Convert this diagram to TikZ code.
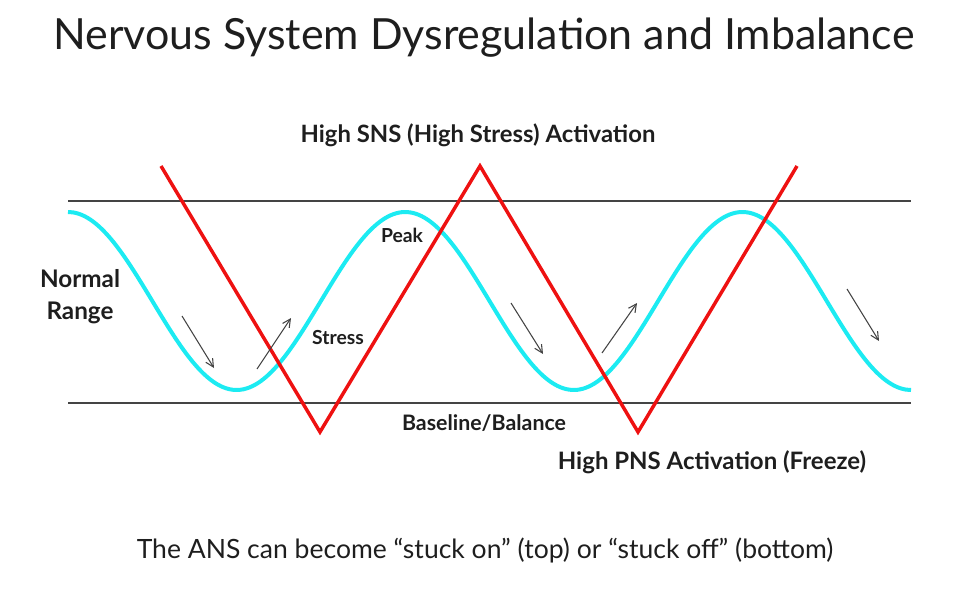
\documentclass[tikz,border=0pt]{standalone}
\usepackage{fontspec}
\setmainfont{Lato}
\usepackage{tikz}
\usetikzlibrary{arrows.meta}

\definecolor{wavecyan}{HTML}{1CEBF2}
\definecolor{zigred}{HTML}{EE1111}
\definecolor{txtdark}{HTML}{1E1E1E}
\definecolor{rulegray}{HTML}{444444}

\begin{document}
\begin{tikzpicture}[x=0.75pt, y=-0.75pt,
    lbl/.style={text=txtdark, font=\bfseries, inner sep=0pt},
    band/.style={rulegray, line width=1.1pt},
    flow/.style={-{Straight Barb[length=6pt,width=6pt]}, rulegray, line width=0.8pt}]
        \useasboundingbox (0,0) rectangle (962,595);

        \node[text=txtdark, font=\fontsize{32.2}{38}\selectfont, inner sep=0pt] (title) at (484, 38) {Nervous System Dysregulation and Imbalance};

        % band limits
        \coordinate (topL) at (68, 201);
        \coordinate (topR) at (911, 201);
        \coordinate (botL) at (68, 403);
        \coordinate (botR) at (911, 403);
        \draw[band] (topL) to (topR);
        \draw[band] (botL) to (botR);

        % wave
        \draw[wavecyan, line width=3pt] plot[domain=68:911, samples=150, smooth] (\x, {301-89*cos((\x-68)/337.2*360)});

        % zigzag
        \coordinate (z1) at (161, 166);
        \coordinate (z2) at (320, 432);
        \coordinate (z3) at (480, 166);
        \coordinate (z4) at (638, 432);
        \coordinate (z5) at (797, 166);
        \draw[zigred, line width=2.6pt, line join=miter] (z1) -- (z2) -- (z3) -- (z4) -- (z5);

        % arrows
        \coordinate (a1) at (182, 316);
        \coordinate (b1) at (214, 368);
        \coordinate (a2) at (257, 369);
        \coordinate (b2) at (291, 318);
        \coordinate (a3) at (511, 303);
        \coordinate (b3) at (543, 354);
        \coordinate (a4) at (602, 353);
        \coordinate (b4) at (637, 303);
        \coordinate (a5) at (847, 289);
        \coordinate (b5) at (879, 341);
        \draw[flow] (a1) to (b1);
        \draw[flow] (a2) to (b2);
        \draw[flow] (a3) to (b3);
        \draw[flow] (a4) to (b4);
        \draw[flow] (a5) to (b5);

        \node[lbl, font=\bfseries\fontsize{17.9}{22}\selectfont] (sns) at (478, 135) {High SNS (High Stress) Activation};
        \node[lbl, font=\bfseries\fontsize{18.2}{24}\selectfont, align=center] (normal) at (80, 297) {Normal\\Range};
        \node[lbl, font=\bfseries\fontsize{14.5}{17}\selectfont] (peak) at (402, 235) {Peak};
        \node[lbl, font=\bfseries\fontsize{14.5}{17}\selectfont] (stress) at (338, 338) {Stress};
        \node[lbl, font=\bfseries\fontsize{16}{19}\selectfont] (base) at (484, 423) {Baseline/Balance};
        \node[lbl, font=\bfseries\fontsize{18}{22}\selectfont] (pns) at (712, 462) {High PNS Activation (Freeze)};
        \node[text=txtdark, font=\fontsize{19.9}{24}\selectfont, inner sep=0pt] (note) at (485, 550) {The ANS can become “stuck on” (top) or “stuck off” (bottom)};
    \end{tikzpicture}
\end{document}
